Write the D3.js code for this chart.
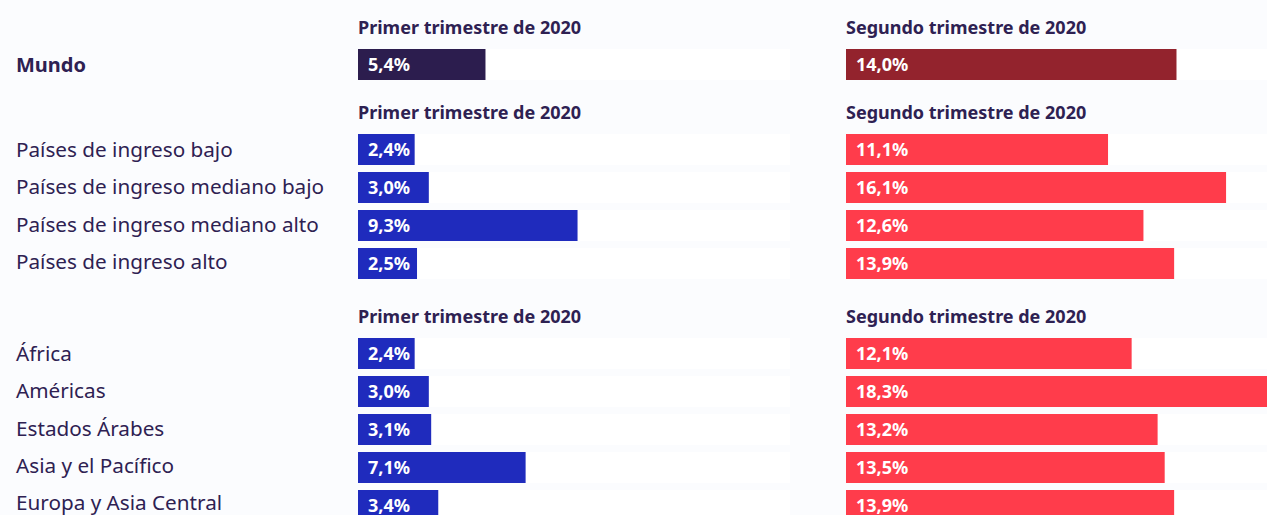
<!DOCTYPE html>
<html>
<head>
<meta charset="utf-8">
<style>
  body { margin: 0; background: #fbfcfe; }
  svg { display: block; font-family: "Noto Sans", sans-serif; }
</style>
<script src="https://d3js.org/d3.v7.min.js"></script>
</head>
<body>
<svg width="1267" height="515"></svg>
<script>
    // data
    var headers = ["Primer trimestre de 2020", "Segundo trimestre de 2020"];
    var worldLabels = ["Mundo"];
    var worldQ1 = [5.4];
    var worldQ2 = [14.0];
    var incomeLabels = ["Países de ingreso bajo", "Países de ingreso mediano bajo", "Países de ingreso mediano alto", "Países de ingreso alto"];
    var incomeQ1 = [2.4, 3.0, 9.3, 2.5];
    var incomeQ2 = [11.1, 16.1, 12.6, 13.9];
    var regionLabels = ["África", "Américas", "Estados Árabes", "Asia y el Pacífico", "Europa y Asia Central"];
    var regionQ1 = [2.4, 3.0, 3.1, 7.1, 3.4];
    var regionQ2 = [12.1, 18.3, 13.2, 13.5, 13.9];

    var svg = d3.select("svg");
    var textColor = "#2e2152";
    var rowStep = 38, labelStep = 37.3, barH = 31;
    var colX = [358, 846];
    var trackW = 432;

    var x = d3.scaleLinear().domain([0, 18.3]).range([0, trackW]);
    var fmt = function (v) { return d3.format(".1f")(v).replace(".", ",") + "%"; };

    var groups = [
        { labels: worldLabels, q1: worldQ1, q2: worldQ2, top: 49, bold: true, colors: ["#2c1d4e", "#93232d"] },
        { labels: incomeLabels, q1: incomeQ1, q2: incomeQ2, top: 134, bold: false, colors: ["#1f2bbd", "#ff3c4b"] },
        { labels: regionLabels, q1: regionQ1, q2: regionQ2, top: 338, bold: false, colors: ["#1f2bbd", "#ff3c4b"] }
    ];

    groups.forEach(function (grp) {
        var g = svg.append("g").attr("transform", "translate(0," + grp.top + ")");
        var y = d3.scaleBand()
            .domain(grp.labels)
            .range([0, grp.labels.length * rowStep])
            .padding(0);
        var yLab = d3.scaleBand()
            .domain(grp.labels)
            .range([0, grp.labels.length * labelStep])
            .padding(0);

        // column headers
        headers.forEach(function (h, c) {
            g.append("text")
                .attr("x", colX[c])
                .attr("y", -15)
                .attr("font-size", "18px")
                .attr("font-weight", "bold")
                .attr("fill", textColor)
                .text(h);
        });

        // row labels
        g.selectAll(".lab")
            .data(grp.labels)
            .enter().append("text")
            .attr("class", "lab")
            .attr("x", 16)
            .attr("y", function (d) { return yLab(d) + barH / 2; })
            .attr("dy", "0.36em")
            .attr("font-size", grp.bold ? "20px" : "20.7px")
            .attr("font-weight", grp.bold ? "bold" : "normal")
            .attr("fill", textColor)
            .text(function (d) { return d; });

        [grp.q1, grp.q2].forEach(function (vals, c) {
            var col = g.append("g").attr("transform", "translate(" + colX[c] + ",0)");
            col.selectAll(".track")
                .data(grp.labels)
                .enter().append("rect")
                .attr("class", "track")
                .attr("x", 0)
                .attr("y", function (d) { return y(d); })
                .attr("width", trackW)
                .attr("height", barH)
                .attr("fill", "#ffffff");
            col.selectAll(".bar")
                .data(vals)
                .enter().append("rect")
                .attr("class", "bar")
                .attr("x", 0)
                .attr("y", function (d, i) { return y(grp.labels[i]); })
                .attr("width", function (d) { return x(d); })
                .attr("height", barH)
                .attr("fill", grp.colors[c]);
            col.selectAll(".val")
                .data(vals)
                .enter().append("text")
                .attr("class", "val")
                .attr("x", 10)
                .attr("y", function (d, i) { return y(grp.labels[i]) + barH / 2; })
                .attr("dy", "0.36em")
                .attr("font-size", "18px")
                .attr("font-weight", "bold")
                .attr("fill", "#ffffff")
                .text(function (d) { return fmt(d); });
        });
    });
</script>
</body>
</html>
